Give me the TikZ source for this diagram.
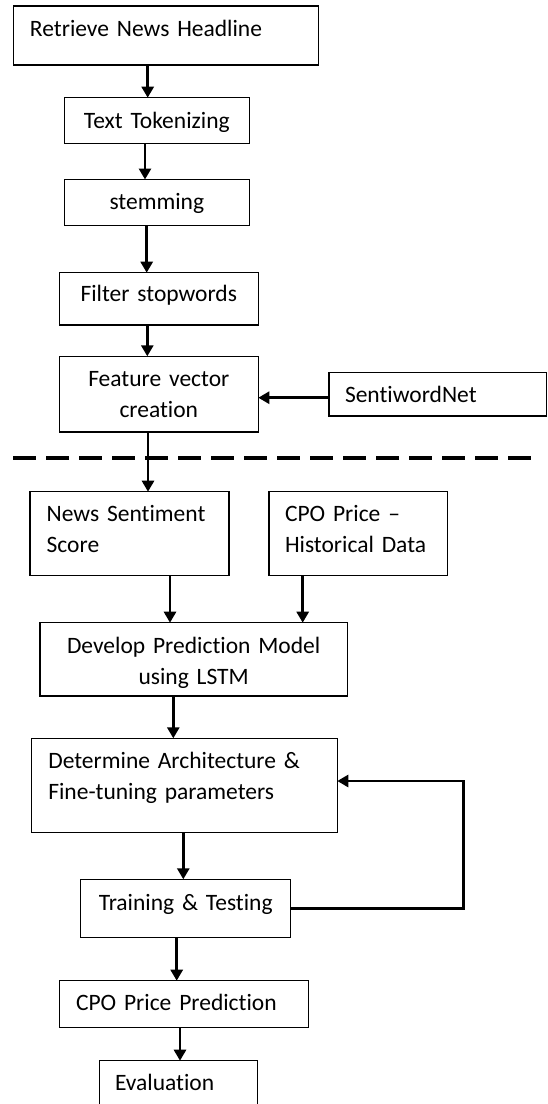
\documentclass[tikz,border=0pt]{standalone}
\usepackage{fontspec}
\setmainfont{Carlito}[Ligatures={NoCommon}]
\usetikzlibrary{arrows.meta}
\begin{document}
\begin{tikzpicture}[x=1pt,y=-1pt,
  box/.style={draw, line width=1.3pt, outer sep=0pt, inner ysep=0pt, anchor=base west,
    font=\fontsize{23.5}{31}\selectfont},
  lbox/.style={box, align=left},
  cbox/.style={box, align=center, inner xsep=0pt},
  arr/.style={line width=2.7pt, -{Triangle[width=12pt,length=11pt]}},
  sep/.style={line width=3.5pt, dash pattern=on 23pt off 10pt}]
\useasboundingbox (0,0) rectangle (548,1104);

\node[lbox, inner xsep=16.7pt, text width=271.6pt, text height=30.7pt, text depth=28.3pt] (n1) at (13.3,36.7) {Retrieve News Headline};
\node[cbox, text width=185pt, text height=30.6pt, text depth=15pt] (n2) at (64.3,128.3) {Text Tokenizing};
\node[cbox, text width=185pt, text height=29.8pt, text depth=16pt] (n3) at (64.3,209.3) {stemming};
\node[cbox, text width=199pt, text height=29pt, text depth=23.3pt] (n4) at (59.3,301.7) {Filter stopwords};
\node[cbox, text width=199pt, text height=30.4pt, text depth=45.3pt] (n5) at (59.3,386.7) {Feature vector\\creation};
\node[lbox, inner xsep=16pt, text width=185.7pt, text height=30pt, text depth=13.3pt] (n6) at (329,402.7) {SentiwordNet};
\node[lbox, inner xsep=16.7pt, text width=165.6pt, text height=30pt, text depth=54pt] (n7) at (30,521.7) {News Sentiment\\Score};
\node[lbox, inner xsep=16pt, text width=146.7pt, text height=30pt, text depth=54pt] (n8) at (269,521.7) {CPO Price –\\Historical Data};
\node[cbox, text width=307.3pt, text height=30.6pt, text depth=42.7pt] (n9) at (40,653.3) {Develop Prediction Model\\using LSTM};
\node[lbox, inner xsep=16.6pt, text width=272.4pt, text height=30pt, text depth=64.4pt] (n10) at (31.7,768.3) {Determine Architecture \&\\Fine-tuning parameters};
\node[cbox, text width=210pt, text height=30.7pt, text depth=27.7pt] (n11) at (80.7,910) {Training \& Testing};
\node[lbox, inner xsep=16.7pt, text width=215.6pt, text height=29.3pt, text depth=17.7pt] (n12) at (59.3,1010) {CPO Price Prediction};
\node[lbox, inner xsep=15.7pt, text width=127pt, text height=30pt, text depth=30pt] (n13) at (99.3,1090.7) {Evaluation};

\draw[sep] (13,458) -- (532,458);

\draw[arr] (n1.south -| 147.7,0) -- (n2.north -| 147.7,0);
\draw[arr] (n2.south -| 145,0) -- (n3.north -| 145,0);
\draw[arr] (n3.south -| 146.7,0) -- (n4.north -| 146.7,0);
\draw[arr] (n4.south -| 147.3,0) -- (n5.north -| 147.3,0);
\draw[arr] (n6.west |- 0,397.7) -- (n5.east |- 0,397.7);
\draw[arr] (n5.south -| 148,0) -- (n7.north -| 148,0);
\draw[arr] (n7.south -| 170,0) -- (n9.north -| 170,0);
\draw[arr] (n8.south -| 302.7,0) -- (n9.north -| 302.7,0);
\draw[arr] (n9.south -| 173.3,0) -- (n10.north -| 173.3,0);
\draw[arr] (n10.south -| 183.3,0) -- (n11.north -| 183.3,0);
\coordinate (fb) at (463.3,781);
\draw[arr] (n11.east) -| (fb) -- (n10.east |- fb);
\draw[arr] (n11.south -| 176.7,0) -- (n12.north -| 176.7,0);
\draw[arr] (n12.south -| 180,0) -- (n13.north -| 180,0);
\end{tikzpicture}
\end{document}
